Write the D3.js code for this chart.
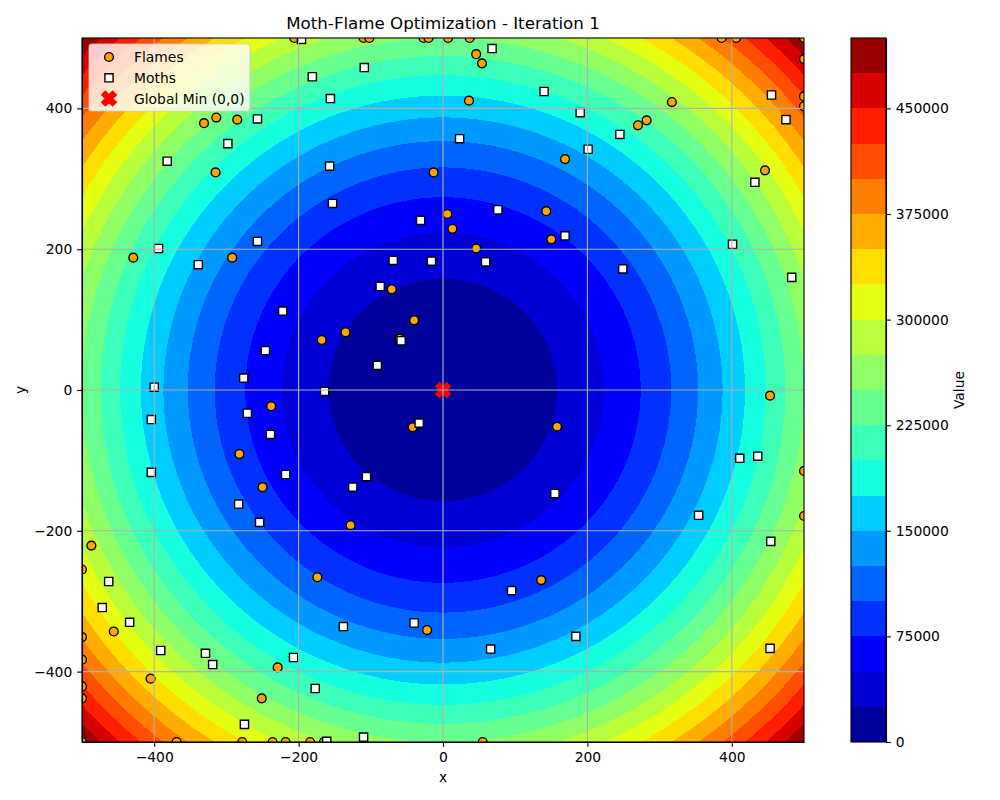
<!DOCTYPE html>
<html>
<head>
	<meta charset="utf-8">
	<script src="https://d3js.org/d3.v7.min.js"></script>
	<style>
		body { margin: 0; background: #fff; }
		text { font-family: "DejaVu Sans", sans-serif; fill: #000; }
	</style>
</head>
<body>
	<script type="text/javascript">
		// contour levels
		var levels = [0, 25000, 50000, 75000, 100000, 125000, 150000, 175000, 200000, 225000, 250000,
			275000, 300000, 325000, 350000, 375000, 400000, 425000, 450000, 475000, 500000];
		var axisTicks = [-400, -200, 0, 200, 400];
		var barTicks = [0, 75000, 150000, 225000, 300000, 375000, 450000];

		var flames = [[-206,500],[-110,500],[-102,500],[-27,500],[-20,500],[7,500],[37,500],[386,500],[406,500],[500,500],
			[46,477],[54,464],[36,411],[317,409],[282,383],[270,376],[169,328],[446,312],
			[-331,379],[-314,387],[-285,384],[-315,309],[-13,309],[6,250],[13,229],[143,254],[150,214],[46,201],
			[-429,188],[-292,188],[-71,143],[-40,99],[-135,82],[-168,71],[-60,73],
			[500,470],[500,417],[500,403],[453,-8],[158,-52],[136,-270],[55,-500],[500,-115],[500,-179],
			[-238,-23],[-42,-53],[-282,-91],[-250,-138],[-128,-192],[-487,-221],[-500,-255],[-174,-266],[-22,-341],
			[-456,-343],[-500,-351],[-500,-383],[-229,-394],[-405,-410],[-500,-421],[-500,-438],[-251,-438],
			[-500,-500],[-369,-500],[-278,-500],[-236,-500],[-218,-500],[-184,-500],[-165,-500]];

		var moths = [[-196,498],[-109,458],[-181,445],[-156,414],[-257,385],[-298,350],[-382,325],[-157,318],[-153,265],
			[-31,241],[-257,211],[-394,201],[-339,178],[-69,184],[-16,183],[-87,147],[-222,112],[-58,70],[-246,56],
			[-91,35],[-276,17],[-400,4],[-164,-2],
			[68,485],[140,424],[190,394],[455,419],[475,384],[245,363],[23,357],[201,342],[432,295],[76,256],[169,219],
			[401,207],[483,160],[59,182],[249,172],
			[-404,-42],[-271,-33],[-239,-63],[-33,-47],[-404,-117],[-218,-120],[-106,-123],[-125,-138],[-283,-162],
			[-254,-188],[-463,-272],[-472,-309],[-434,-330],[-138,-336],[-40,-331],[-391,-370],[-329,-374],[-319,-390],
			[-207,-380],[-177,-424],[-275,-475],[-110,-493],[-161,-499],
			[155,-147],[436,-94],[411,-97],[354,-178],[454,-215],[95,-285],[184,-350],[66,-368],[453,-367]];

		var globalMin = [[0, 0]];

		var w = 1000;
		var h = 800;
		var plot = {left: 82, right: 804, top: 38, bottom: 742};
		var bar = {left: 851, right: 886};

		var xScale = d3.scaleLinear().domain([-500, 500]).range([plot.left, plot.right]);
		var yScale = d3.scaleLinear().domain([-500, 500]).range([plot.bottom, plot.top]);
		var barScale = d3.scaleLinear().domain([0, 500000]).range([plot.bottom, plot.top]);

		// jet colormap, one scale per channel, 256 steps like matplotlib
		var jetR = d3.scaleLinear().domain([0, 0.35, 0.66, 0.89, 1]).range([0, 0, 1, 1, 0.5]);
		var jetG = d3.scaleLinear().domain([0, 0.125, 0.375, 0.64, 0.91, 1]).range([0, 0, 1, 1, 0, 0]);
		var jetB = d3.scaleLinear().domain([0, 0.11, 0.34, 0.65, 1]).range([0.5, 1, 1, 0, 0]);
		var jet = function(t){
			var v = Math.min(Math.floor(t * 256), 255) / 255;
			return d3.rgb(jetR(v) * 255, jetG(v) * 255, jetB(v) * 255).formatHex();
		};
		var bandColor = function(i){
			return jet((levels[i] + levels[i + 1]) / 2 / 500000);
		};
		var bands = d3.range(levels.length - 1);

		var svg = d3.select("body").append("svg").attr("width", w).attr("height", h);

		svg.append("clipPath").attr("id", "plotclip").append("rect")
			.attr("x", plot.left).attr("y", plot.top)
			.attr("width", plot.right - plot.left).attr("height", plot.bottom - plot.top);

		var inner = svg.append("g").attr("clip-path", "url(#plotclip)");

		// top band fills the square, the rest are circles x^2 + y^2 = level, largest first
		inner.append("rect")
			.attr("x", plot.left).attr("y", plot.top)
			.attr("width", plot.right - plot.left).attr("height", plot.bottom - plot.top)
			.attr("fill", bandColor(bands.length - 1));

		inner.selectAll("ellipse")
			.data(bands.slice(0, -1).reverse())
			.enter()
			.append("ellipse")
			.attr("cx", xScale(0))
			.attr("cy", yScale(0))
			.attr("rx", function(d){return xScale(Math.sqrt(levels[d + 1])) - xScale(0);})
			.attr("ry", function(d){return yScale(0) - yScale(Math.sqrt(levels[d + 1]));})
			.attr("fill", function(d){return bandColor(d);})
			.attr("shape-rendering", "crispEdges");

		var xMark = {
			draw: function(ctx, size){
				var u = Math.sqrt(size) / 4;
				var pts = [[-1,-2],[0,-1],[1,-2],[2,-1],[1,0],[2,1],[1,2],[0,1],[-1,2],[-2,1],[-1,0],[-2,-1]];
				pts.forEach(function(p, i){
					if (i == 0) ctx.moveTo(p[0] * u, p[1] * u);
					else ctx.lineTo(p[0] * u, p[1] * u);
				});
				ctx.closePath();
			}
		};
		var circlePath = d3.symbol().type(d3.symbolCircle).size(Math.PI * 4.4 * 4.4)();
		var squarePath = d3.symbol().type(d3.symbolSquare).size(8.2 * 8.2)();
		var xPath = d3.symbol().type(xMark).size(14.5 * 14.5)();

		var drawMarks = function(parent, data, path, fill, stroke){
			parent.append("g").selectAll("path")
				.data(data)
				.enter()
				.append("path")
				.attr("transform", function(d){return "translate(" + xScale(d[0]) + "," + yScale(d[1]) + ")";})
				.attr("d", path)
				.attr("fill", fill)
				.attr("stroke", stroke)
				.attr("stroke-width", 1.39);
		};

		drawMarks(inner, flames, circlePath, "orange", "#000");
		drawMarks(inner, moths, squarePath, "#fff", "#000");
		drawMarks(inner, globalMin, xPath, "#f00", "#f00");

		// grid sits above the scatter in the original
		var gridColor = "#b0b0b0";
		inner.append("g").selectAll("line")
			.data(axisTicks)
			.enter()
			.append("line")
			.attr("x1", function(d){return xScale(d);})
			.attr("x2", function(d){return xScale(d);})
			.attr("y1", plot.top).attr("y2", plot.bottom)
			.attr("stroke", gridColor).attr("stroke-width", 1.11);
		inner.append("g").selectAll("line")
			.data(axisTicks)
			.enter()
			.append("line")
			.attr("y1", function(d){return yScale(d);})
			.attr("y2", function(d){return yScale(d);})
			.attr("x1", plot.left).attr("x2", plot.right)
			.attr("stroke", gridColor).attr("stroke-width", 1.11);

		// legend
		var legend = svg.append("g");
		legend.append("rect")
			.attr("x", 89).attr("y", 44)
			.attr("width", 161).attr("height", 67).attr("rx", 3)
			.attr("fill", "#fff").attr("fill-opacity", 0.8)
			.attr("stroke", "#ccc").attr("stroke-opacity", 0.8).attr("stroke-width", 1.11);

		var legendItems = ["Flames", "Moths", "Global Min (0,0)"];
		var legendMarks = [[circlePath, "orange", "#000"], [squarePath, "#fff", "#000"], [xPath, "#f00", "#f00"]];
		legendItems.forEach(function(name, i){
			var y = 57 + i * 20.8;
			legend.append("path")
				.attr("transform", "translate(109," + y + ")")
				.attr("d", legendMarks[i][0])
				.attr("fill", legendMarks[i][1])
				.attr("stroke", legendMarks[i][2])
				.attr("stroke-width", 1.39);
			legend.append("text")
				.attr("x", 134).attr("y", y + 5)
				.attr("font-size", 13.89)
				.text(name);
		});

		// axes
		var styleAxis = function(g){
			g.selectAll("text").attr("font-size", 13.89).attr("font-family", "DejaVu Sans");
			g.selectAll("line").attr("stroke", "#000").attr("stroke-width", 1.11);
			g.selectAll(".domain").attr("stroke", "#000").attr("stroke-width", 1.11);
		};

		svg.append("g")
			.attr("transform", "translate(0," + plot.bottom + ")")
			.call(d3.axisBottom(xScale).tickValues(axisTicks).tickSize(4.86).tickPadding(4.9).tickSizeOuter(0))
			.call(styleAxis);
		svg.append("g")
			.attr("transform", "translate(" + plot.left + ",0)")
			.call(d3.axisLeft(yScale).tickValues(axisTicks).tickSize(4.86).tickPadding(4.9).tickSizeOuter(0))
			.call(styleAxis);

		svg.append("rect")
			.attr("x", plot.left).attr("y", plot.top)
			.attr("width", plot.right - plot.left).attr("height", plot.bottom - plot.top)
			.attr("fill", "none").attr("stroke", "#000").attr("stroke-width", 1.11);

		// colorbar
		svg.append("g").selectAll("rect")
			.data(bands)
			.enter()
			.append("rect")
			.attr("x", bar.left)
			.attr("width", bar.right - bar.left)
			.attr("y", function(d){return barScale(levels[d + 1]);})
			.attr("height", function(d){return barScale(levels[d]) - barScale(levels[d + 1]);})
			.attr("fill", function(d){return bandColor(d);})
			.attr("shape-rendering", "crispEdges");
		svg.append("g")
			.attr("transform", "translate(" + bar.right + ",0)")
			.call(d3.axisRight(barScale).tickValues(barTicks).tickFormat(d3.format("d")).tickSize(4.86).tickPadding(4.9).tickSizeOuter(0))
			.call(styleAxis);
		svg.append("rect")
			.attr("x", bar.left).attr("y", plot.top)
			.attr("width", bar.right - bar.left).attr("height", plot.bottom - plot.top)
			.attr("fill", "none").attr("stroke", "#000").attr("stroke-width", 1.11);

		// titles and labels
		svg.append("text")
			.attr("x", 443).attr("y", 29)
			.attr("text-anchor", "middle").attr("font-size", 16.67)
			.text("Moth-Flame Optimization - Iteration 1");
		svg.append("text")
			.attr("x", 443).attr("y", 782)
			.attr("text-anchor", "middle").attr("font-size", 13.89)
			.text("x");
		svg.append("text")
			.attr("transform", "translate(25,390) rotate(-90)")
			.attr("text-anchor", "middle").attr("font-size", 13.89)
			.text("y");
		svg.append("text")
			.attr("transform", "translate(964,390) rotate(-90)")
			.attr("text-anchor", "middle").attr("font-size", 13.89)
			.text("Value");
	</script>
</body>
</html>
